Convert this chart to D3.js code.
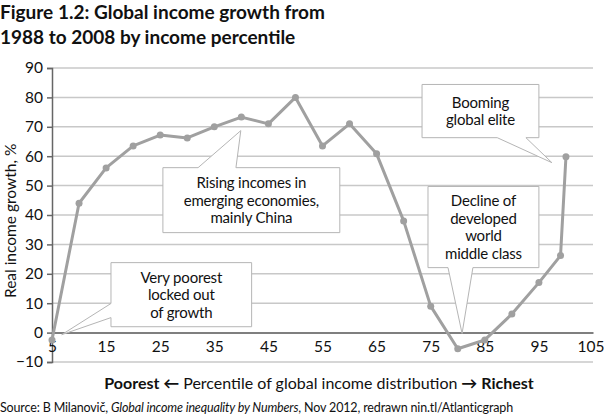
<!DOCTYPE html>
<html>
<head>
<meta charset="utf-8">
<script src="https://cdn.jsdelivr.net/npm/d3@7"></script>
<style>
  body { margin: 0; background: #fff; }
  svg { font-family: Lato, "Open Sans", sans-serif; }
</style>
</head>
<body>
<script>
// percentile of global income distribution
var percentiles = [5, 10, 15, 20, 25, 30, 35, 40, 45, 50, 55, 60, 65, 70, 75, 80, 85, 90, 95, 99, 100];
// real income growth 1988-2008, %
var growth = [-2.5, 44, 56, 63.5, 67.2, 66.2, 70, 73.3, 71, 80, 63.5, 71, 60.8, 38, 9, -5.5, -2.5, 6.3, 17, 26.2, 59.8];
var yTicks = [-10, 0, 10, 20, 30, 40, 50, 60, 70, 80, 90];
var xTicks = [5, 15, 25, 35, 45, 55, 65, 75, 85, 95, 105];

// callouts: text lines and the spot each one points at (data units)
var notes = [
  { lines: ["Rising incomes in", "emerging economies,", "mainly China"], at: [39.9, 68.7] },
  { lines: ["Booming", "global elite"], at: [97.4, 57.8] },
  { lines: ["Decline of", "developed", "world", "middle class"], at: [80.8, -0.3] },
  { lines: ["Very poorest", "locked out", "of growth"], at: [6.8, -0.7] }
];

var width = 604, height = 417;

var svg = d3.select("body").append("svg")
    .attr("width", width)
    .attr("height", height);

var x = d3.scaleLinear().domain([5, 105]).range([52, 593]);
var y = d3.scaleLinear().domain([-10, 90]).range([362, 68]);

//title
svg.append("text")
    .attr("x", 0).attr("y", 19)
    .attr("font-size", 19).attr("font-weight", "bold").attr("fill", "#111")
    .text("Figure 1.2: Global income growth from");
svg.append("text")
    .attr("x", 0).attr("y", 44)
    .attr("font-size", 19).attr("font-weight", "bold").attr("fill", "#111")
    .text("1988 to 2008 by income percentile");

//gridlines
svg.append("g").selectAll("line")
    .data(yTicks.filter(function(d){ return d != 0; }))
    .enter().append("line")
    .attr("x1", x(5)).attr("x2", x(105))
    .attr("y1", function(d){ return y(d); })
    .attr("y2", function(d){ return y(d); })
    .attr("stroke", "#c8c8c8").attr("stroke-width", 1.5);

//y axis
var yAxis = svg.append("g")
    .attr("transform", "translate(" + x(5) + ",0)")
    .call(d3.axisLeft(y).tickValues(yTicks).tickSize(5).tickPadding(4));
yAxis.select(".domain").attr("stroke", "#666").attr("stroke-width", 1.5);
yAxis.selectAll(".tick line").attr("stroke", "#666").attr("stroke-width", 1.5);
yAxis.selectAll("text").attr("font-size", 15.5).attr("fill", "#111")
    .attr("font-family", "Lato, sans-serif");

//x axis along zero
var xAxis = svg.append("g")
    .attr("transform", "translate(0," + y(0) + ")")
    .call(d3.axisBottom(x).tickValues(xTicks).tickSize(0).tickPadding(8));
xAxis.select(".domain").attr("stroke", "#555").attr("stroke-width", 1.5);
xAxis.selectAll("text").attr("font-size", 15.5).attr("fill", "#111")
    .attr("font-family", "Lato, sans-serif");
//keep the last label inside the frame
xAxis.selectAll(".tick text").filter(function(d){ return d == 105; })
    .attr("text-anchor", "end").attr("dx", 11);

//y axis title
svg.append("text")
    .attr("transform", "translate(16," + y(38) + ") rotate(-90)")
    .attr("text-anchor", "middle")
    .attr("font-size", 15.5).attr("fill", "#111")
    .text("Real income growth, %");

//callout boxes: [left, top, right, bottom] in data units, plus where the pointer leaves the box
var boxes = [
  { box: [25.5, 56.1, 58.2, 34.0], side: "top", from: [32.0, 39.0] },
  { box: [73.4, 84.4, 95.0, 66.3], side: "bottom", from: [87.3, 92.6] },
  { box: [74.5, 49.7, 95.0, 22.1], side: "bottom", from: [78.2, 82.8] },
  { box: [15.9, 23.8, 41.9, 2.0], side: "left", from: [5.1, 9.9] }
];

boxes.forEach(function(b, i){
  var n = notes[i];
  var g = svg.append("g");
  var x0 = x(b.box[0]), x1 = x(b.box[2]), y0 = y(b.box[1]), y1 = y(b.box[3]);
  var tip = [x(n.at[0]), y(n.at[1])];
  var p;
  //speech-bubble outline going round the box with a notch for the pointer
  if (b.side == "top") {
    p = [[x0, y0], [x(b.from[0]), y0], tip, [x(b.from[1]), y0], [x1, y0], [x1, y1], [x0, y1]];
  } else if (b.side == "bottom") {
    p = [[x0, y0], [x1, y0], [x1, y1], [x(b.from[1]), y1], tip, [x(b.from[0]), y1], [x0, y1]];
  } else {
    p = [[x0, y0], [x1, y0], [x1, y1], [x0, y1], [x0, y(b.from[0])], tip, [x0, y(b.from[1])]];
  }
  g.append("path")
      .attr("d", d3.line()(p) + "Z")
      .attr("fill", "#fff")
      .attr("stroke", "#b5b5b5")
      .attr("stroke-width", 1);

  var lh = 17.5;
  var cy = (y0 + y1) / 2 - (n.lines.length - 1) * lh / 2;
  g.selectAll("text")
      .data(n.lines)
      .enter().append("text")
      .attr("x", (x0 + x1) / 2)
      .attr("y", function(d, j){ return cy + j * lh + 5.5; })
      .attr("text-anchor", "middle")
      .attr("font-size", 15)
      .attr("letter-spacing", -0.2)
      .attr("fill", "#111")
      .text(function(d){ return d; });
});

//line and points
var pts = percentiles.map(function(p, i){ return [p, growth[i]]; });
var line = d3.line()
    .x(function(d){ return x(d[0]); })
    .y(function(d){ return y(d[1]); });

svg.append("path")
    .datum(pts)
    .attr("d", line)
    .attr("fill", "none")
    .attr("stroke", "#a0a0a0")
    .attr("stroke-width", 3)
    .attr("stroke-linejoin", "round");

svg.append("g").selectAll("circle")
    .data(pts)
    .enter().append("circle")
    .attr("cx", function(d){ return x(d[0]); })
    .attr("cy", function(d){ return y(d[1]); })
    .attr("r", 3.5)
    .attr("fill", "#a0a0a0");

//x axis title
var xt = svg.append("text")
    .attr("x", 319).attr("y", 389)
    .attr("text-anchor", "middle")
    .attr("font-size", 16).attr("fill", "#111");
xt.append("tspan").attr("font-weight", "bold").text("Poorest");
xt.append("tspan").attr("font-weight", "bold").text(" \u2190 ");
xt.append("tspan").text("Percentile of global income distribution");
xt.append("tspan").attr("font-weight", "bold").text(" \u2192 ");
xt.append("tspan").attr("font-weight", "bold").text("Richest");

//source
var src = svg.append("text")
    .attr("x", 0).attr("y", 412)
    .attr("font-size", 12.5).attr("letter-spacing", -0.15).attr("fill", "#111");
src.append("tspan").text("Source: B Milanovi\u010D, ");
src.append("tspan").attr("font-style", "italic").text("Global income inequality by Numbers");
src.append("tspan").text(", Nov 2012, redrawn nin.tl/Atlanticgraph");
</script>
</body>
</html>
